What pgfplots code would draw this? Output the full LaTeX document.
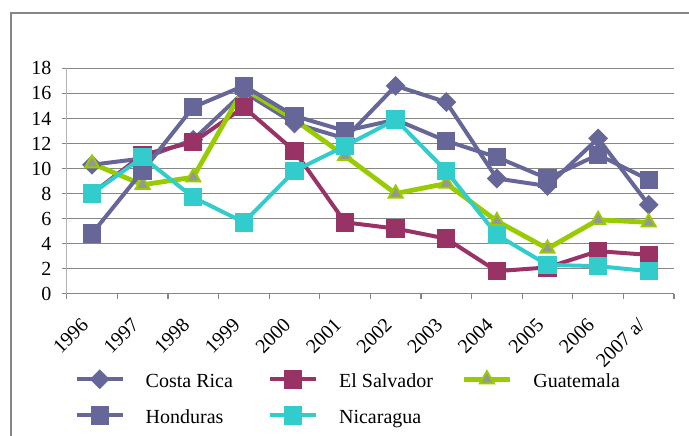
\documentclass[border=0pt]{standalone}
\usepackage{fontspec}
\setmainfont{Liberation Serif}
\usepackage{pgfplots}
\pgfplotsset{compat=1.18}
\definecolor{cr}{HTML}{666699}
\definecolor{sv}{HTML}{993366}
\definecolor{gt}{HTML}{99CC00}
\definecolor{gtm}{HTML}{969696}
\definecolor{ni}{HTML}{33CCCC}
\definecolor{gridc}{HTML}{868686}
\definecolor{yax}{HTML}{B4B4B4}
\begin{document}
\fontsize{10}{12}\selectfont
\begin{tikzpicture}
\useasboundingbox (0,0) rectangle (344.5pt,217.5pt);
\begin{scope}
\clip (0,0) rectangle (344.5pt,217.5pt);
\draw[gridc, line width=0.8pt] (5.5pt,-5pt) rectangle (360pt,211pt);
\end{scope}
\begin{axis}[
  at={(33.35pt,70.65pt)}, anchor=south west,
  scale only axis, width=303.65pt, height=112.7pt,
  xmin=0, xmax=12, ymin=0, ymax=18,
  axis x line*=bottom, axis y line*=left,
  x axis line style={gridc, line width=0.6pt, -},
  y axis line style={yax, line width=0.6pt, -},
  tick align=outside, major tick length=2.5pt,
  tick style={gridc, line width=0.6pt},
  ytick={0,2,...,18},
  xtick={0,...,12}, xticklabels={},
  extra x ticks={0.5,1.5,...,11.5},
  extra x tick labels={1996,1997,1998,1999,2000,2001,2002,2003,2004,2005,2006,2007 a/},
  extra x tick style={major tick length=0pt, grid=none,
    xticklabel style={xshift=-3.5pt, yshift=-14pt, rotate=45, anchor=east, inner sep=0pt}},
  yticklabel style={inner sep=0pt, anchor=east, xshift=-5pt},
  ymajorgrids, grid style={gridc, line width=0.6pt},
  /pgf/number format/assume math mode=true,
  legend columns=3,
  legend cell align=left,
  legend style={draw=none, fill=none, at={(0.0132,-0.3443)}, anchor=north west,
    inner sep=0pt, outer sep=0pt, column sep=0pt, row sep=10pt,
    nodes={inner sep=0pt, text height=8pt, text depth=0pt},
    /tikz/every odd column/.append style={column sep=10.5pt}},
  legend image code/.code={\draw[mark repeat=2,mark phase=2,#1] plot coordinates {(0pt,0pt) (11.5pt,0pt) (23pt,0pt)};},
]
\addplot[cr, line width=2pt, mark=square*, mark size=2.5pt, mark options={rotate=45, solid}]
 coordinates {(0.5,10.3)(1.5,10.8)(2.5,12.3)(3.5,16.1)(4.5,13.6)(5.5,12.4)(6.5,16.6)(7.5,15.3)(8.5,9.2)(9.5,8.6)(10.5,12.4)(11.5,7.1)};
\addlegendentry{\makebox[61.2pt][l]{Costa Rica}}
\addplot[sv, line width=2pt, mark=square*, mark size=3.6pt, mark options={solid}]
 coordinates {(0.5,8.0)(1.5,11.1)(2.5,12.1)(3.5,14.9)(4.5,11.4)(5.5,5.7)(6.5,5.2)(7.5,4.4)(8.5,1.8)(9.5,2.1)(10.5,3.4)(11.5,3.1)};
\addlegendentry{\makebox[61.2pt][l]{El Salvador}}
\addplot[gt, line width=2.4pt, mark=triangle*, mark size=4pt, mark options={solid, fill=gtm, draw=gt, line width=1pt}]
 coordinates {(0.5,10.4)(1.5,8.7)(2.5,9.3)(3.5,16.4)(4.5,13.9)(5.5,11.0)(6.5,8.0)(7.5,8.8)(8.5,5.8)(9.5,3.6)(10.5,5.9)(11.5,5.7)};
\addlegendentry{\makebox[61.2pt][l]{Guatemala}}
\addplot[cr, line width=2pt, mark=square*, mark size=3.6pt, mark options={solid}]
 coordinates {(0.5,4.8)(1.5,9.8)(2.5,14.9)(3.5,16.6)(4.5,14.2)(5.5,13.0)(6.5,13.9)(7.5,12.2)(8.5,10.9)(9.5,9.2)(10.5,11.1)(11.5,9.1)};
\addlegendentry{\makebox[61.2pt][l]{Honduras}}
\addplot[ni, line width=2pt, mark=square*, mark size=3.6pt, mark options={solid}]
 coordinates {(0.5,8.0)(1.5,10.9)(2.5,7.7)(3.5,5.7)(4.5,9.8)(5.5,11.8)(6.5,13.9)(7.5,9.8)(8.5,4.7)(9.5,2.3)(10.5,2.2)(11.5,1.8)};
\addlegendentry{\makebox[61.2pt][l]{Nicaragua}}
\end{axis}
\end{tikzpicture}
\end{document}
